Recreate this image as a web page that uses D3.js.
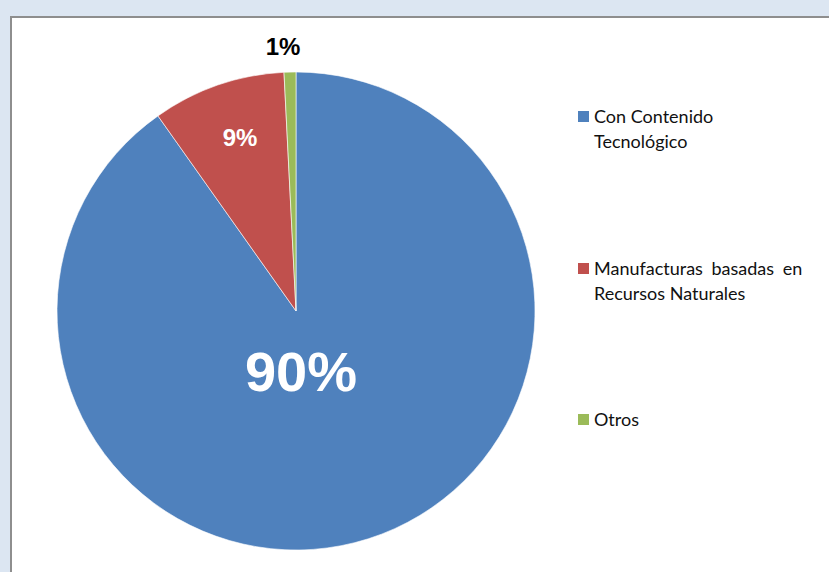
<!DOCTYPE html>
<html><head><meta charset="utf-8">
<script src="https://cdn.jsdelivr.net/npm/d3@7"></script>
<style>html,body{margin:0;padding:0;background:#dce6f2;}</style>
</head><body>
<svg id="c" width="829" height="572"></svg>
<script>
const categories = ["Con Contenido Tecnológico", "Manufacturas basadas en Recursos Naturales", "Otros"];
const legendLines = [["Con Contenido", "Tecnológico"], ["Manufacturas basadas en", "Recursos Naturales"], ["Otros"]];
const values = [90.2, 9.0, 0.8];
const colors = ["#4f81bd", "#c0504d", "#9bbb59"];

const svg = d3.select("#c");
svg.append("rect").attr("x", 10).attr("y", 16).attr("width", 830).attr("height", 570).attr("fill", "#fff");
svg.append("path").attr("d", "M11,572 V17 H829").attr("fill", "none").attr("stroke", "#8e8e8e").attr("stroke-width", 2);

const cx = 296, cy = 311, r = 239;
const pie = d3.pie().sort(null).value(d => d)(values);
const arc = d3.arc().innerRadius(0).outerRadius(r);
const g = svg.append("g").attr("transform", `translate(${cx},${cy})`);
g.selectAll("path").data(pie).join("path")
  .attr("d", arc).attr("fill", (d, i) => colors[i])
  .attr("stroke", "#fff").attr("stroke-width", 0.6);

const fmt = v => Math.round(v) + "%";
const labelStyle = [
  {x: 5, y: 60, size: 56, fill: "#fff"},
  {x: -56, y: -174, size: 24, fill: "#fff"},
  {x: -13, y: -265, size: 24, fill: "#000"}
];
pie.forEach((d, i) => {
  const lp = labelStyle[i];
  g.append("text").attr("x", lp.x).attr("y", lp.y)
    .attr("text-anchor", "middle").attr("dominant-baseline", "central")
    .attr("font-family", "Liberation Sans, Arial, sans-serif").attr("font-weight", "bold")
    .attr("font-size", lp.size).attr("fill", lp.fill).text(fmt(d.data));
});

// legend
const legY = [123, 275, 426];
const lg = svg.append("g");
categories.forEach((c, i) => {
  lg.append("rect").attr("x", 578).attr("y", legY[i] - 12).attr("width", 11).attr("height", 11).attr("fill", colors[i]);
  const t = lg.append("text").attr("x", 594).attr("y", legY[i])
    .attr("font-family", "Lato, 'Open Sans', sans-serif").attr("font-size", 18).attr("fill", "#111");
  legendLines[i].forEach((ln, j) => {
    const ts = t.append("tspan").attr("x", 594).attr("dy", j === 0 ? 0 : 25).text(ln);
    if (i === 1 && j === 0) ts.attr("word-spacing", 4);
  });
});
</script>
</body></html>
